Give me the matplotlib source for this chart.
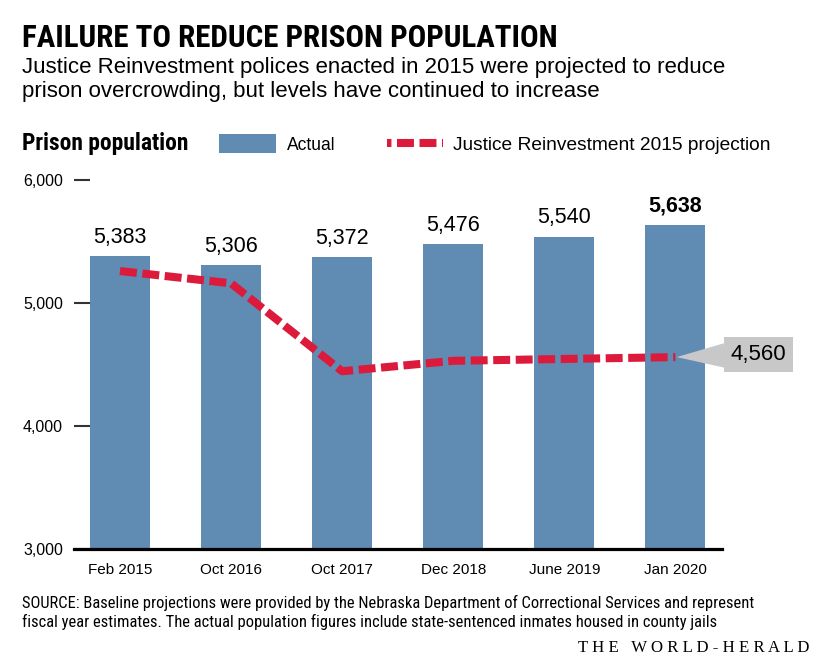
import matplotlib
matplotlib.use('Agg')
import matplotlib.pyplot as plt
from matplotlib import font_manager
from matplotlib.lines import Line2D
from matplotlib.patches import Rectangle

# data
periods = ['Feb 2015', 'Oct 2016', 'Oct 2017', 'Dec 2018', 'June 2019', 'Jan 2020']
actual = [5383, 5306, 5372, 5476, 5540, 5638]
projection = [5260, 5160, 4445, 4530, 4545, 4560]
yticks = [3000, 4000, 5000, 6000]

BLUE = '#608bb2'
RED = '#dc1a3c'
GREY = '#c8c8c8'

plt.rcParams['lines.scale_dashes'] = False

names = {f.name for f in font_manager.fontManager.ttflist}


def first(*cands):
    for c in cands:
        if c in names:
            return c
    return 'DejaVu Sans'


NARROW = first('Liberation Sans Narrow', 'Roboto Condensed', 'DejaVu Sans Condensed', 'Liberation Sans')
SANS = first('Liberation Sans', 'Arimo', 'DejaVu Sans')
SERIF = first('Liberation Serif', 'DejaVu Serif')

W, H = 822, 668
fig = plt.figure(figsize=(W / 100, H / 100), dpi=100)
renderer = fig.canvas.get_renderer()


def fx(x):
    return x / W


def fy(y):
    return 1 - y / H


def fit(t, width):
    # shrink / grow font so the text spans the measured width in px
    for _ in range(3):
        w = t.get_window_extent(renderer).width
        t.set_fontsize(t.get_fontsize() * width / w)


def ftext(x, y, s, width=None, **kw):
    t = fig.text(fx(x), fy(y), s, va='baseline', ha='left', **kw)
    if width:
        fit(t, width)
    return t


# headings
ftext(22, 47, 'FAILURE TO REDUCE PRISON POPULATION', width=535,
      family=NARROW, weight='bold', fontsize=22)
ftext(22, 73, 'Justice Reinvestment polices enacted in 2015 were projected to reduce',
      width=708, family=SANS, fontsize=16)
ftext(22, 97, 'prison overcrowding, but levels have continued to increase',
      family=SANS, fontsize=fig.texts[-1].get_fontsize())

# legend row
ftext(22, 150, 'Prison population', width=166, family=NARROW, weight='bold', fontsize=15)
fig.add_artist(Rectangle((fx(219), fy(153)), fx(276) - fx(219), fy(134) - fy(153),
                         transform=fig.transFigure, fc=BLUE, ec='none'))
ftext(287, 150, 'Actual', width=49, family=SANS, fontsize=14)
fig.add_artist(Line2D([fx(387), fx(443)], [fy(143), fy(143)], transform=fig.transFigure,
                      color=RED, lw=5.8, solid_capstyle='butt', dash_capstyle='butt',
                      linestyle=(9, (12.2, 4.0))))
ftext(453, 150, 'Justice Reinvestment 2015 projection', width=317, family=SANS, fontsize=14)

# chart area
ax = fig.add_axes([fx(74), fy(549), fx(722) - fx(74), fy(180) - fy(549)])
x = list(range(len(periods)))
ax.bar(x, actual, width=0.54, color=BLUE, zorder=1)
ax.plot(x, projection, color=RED, lw=5.8, dash_capstyle='butt', solid_capstyle='butt',
        linestyle=(0, (12.2, 4.0)), zorder=3)

ax.set_xlim(-0.414, 5.42)
ax.set_ylim(3000, 6000)
ax.set_yticks(yticks)
ax.set_yticklabels([f'{v:,}' for v in yticks], family=SANS, fontsize=11.5)
ax.tick_params(axis='y', direction='in', length=11.5, width=1.5, color='#333333', pad=8)
ax.set_xticks(x)
ax.set_xticklabels(periods, family=SANS, fontsize=11)
ax.tick_params(axis='x', length=0, pad=10)
for s in ['top', 'right', 'left']:
    ax.spines[s].set_visible(False)
ax.spines['bottom'].set_linewidth(2.3)
ax.spines['bottom'].set_color('black')
ax.spines['bottom'].set_zorder(4)

for i, v in enumerate(actual):
    last = i == len(actual) - 1
    ax.annotate(f'{v:,}', (i, v), xytext=(0, 6), textcoords='offset points',
                ha='center', va='bottom', family=SANS, fontsize=15.5,
                weight='bold' if last else 'normal', clip_on=False)

ax.annotate(f'{projection[-1]:,}', (x[-1], projection[-1]), xytext=(60, 2),
            textcoords='offset points', ha='center', va='center', family=SANS,
            fontsize=16, annotation_clip=False,
            bbox=dict(boxstyle='square,pad=0.3', fc=GREY, ec='none'),
            arrowprops=dict(arrowstyle='wedge,tail_width=1.1', fc=GREY, ec='none',
                            shrinkA=0, shrinkB=1))

# source + logo
src1 = 'SOURCE: Baseline projections were provided by the Nebraska Department of Correctional Services and represent'
src2 = 'fiscal year estimates. The actual population figures include state-sentenced inmates housed in county jails'
ftext(22, 608, src1, width=733, family=NARROW, fontsize=11)
ftext(22, 627, src2, family=NARROW, fontsize=fig.texts[-1].get_fontsize())
ftext(578, 652, 'T H E   W O R L D - H E R A L D', width=229, family=SERIF, fontsize=11)

fig.savefig('out.png', dpi=100)
